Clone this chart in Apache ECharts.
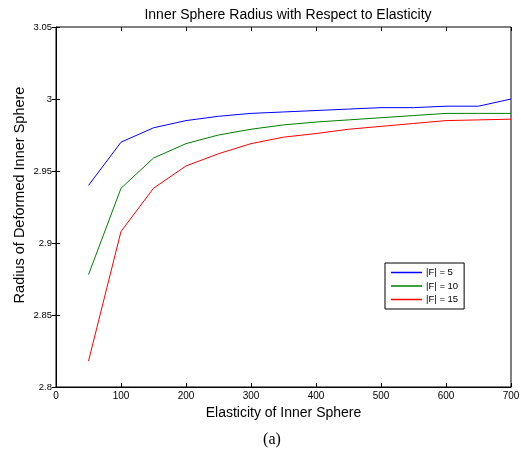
<!DOCTYPE html>
<html>
<head>
<meta charset="utf-8">
<script src="https://cdn.jsdelivr.net/npm/echarts@6/dist/echarts.min.js"></script>
<style>
  html, body { margin: 0; padding: 0; background: #fff; }
  #chart { width: 521px; height: 461px; }
</style>
</head>
<body>
<div id="chart"></div>
<script>
// Datos
const elasticity = [50, 100, 150, 200, 250, 300, 350, 400, 450, 500, 550, 600, 650, 700];
const radiusF5 = [2.940, 2.970, 2.980, 2.985, 2.988, 2.990, 2.991, 2.992, 2.993, 2.994, 2.994, 2.995, 2.995, 3.000];
const radiusF10 = [2.878, 2.938, 2.959, 2.969, 2.975, 2.979, 2.982, 2.984, 2.9855, 2.987, 2.9885, 2.990, 2.990, 2.990];
const radiusF15 = [2.818, 2.908, 2.938, 2.9535, 2.962, 2.969, 2.9735, 2.976, 2.979, 2.981, 2.983, 2.985, 2.9855, 2.986];
const seriesNames = ["|F| = 5", "|F| = 10", "|F| = 15"];
const seriesColors = ["#0000ff", "#008000", "#ff0000"];

const font = "Liberation Sans, Arial, sans-serif";

function pairs(ys) {
  return elasticity.map((x, i) => [x, ys[i]]);
}

const chart = echarts.init(document.getElementById("chart"));

// Ejes espejo (arriba y derecha) solo con marcas
const mirrorAxis = {
  axisLine: { show: false },
  axisLabel: { show: false },
  axisTick: { show: true, inside: true, length: 4, lineStyle: { color: "#000" } },
  splitLine: { show: false },
};

chart.setOption({
  animation: false,
  backgroundColor: "#fff",
  title: [
    {
      text: "Inner Sphere Radius with Respect to Elasticity",
      left: 283, top: 3, textAlign: "center",
      textStyle: { fontFamily: font, fontSize: 14, fontWeight: "normal", color: "#000" },
    },
    {
      text: "(a)",
      left: 267, top: 427, textAlign: "center",
      textStyle: { fontFamily: "Liberation Serif, Times New Roman, serif", fontSize: 16, fontWeight: "normal", color: "#000" },
    },
  ],
  // Nombre del eje Y como texto girado
  graphic: [
    {
      type: "text",
      x: 20, y: 195,
      rotation: Math.PI / 2,
      style: {
        text: "Radius of Deformed Inner Sphere",
        fontFamily: font, fontSize: 14.5, fill: "#000",
        align: "center", verticalAlign: "middle",
      },
    },
  ],
  grid: {
    left: 56, right: 10, top: 27, bottom: 74,
    outerBoundsMode: "none", containLabel: false,
    show: true, borderColor: "#000", borderWidth: 1,
  },
  legend: {
    orient: "vertical",
    left: 385, top: 263,
    data: seriesNames,
    icon: "rect",
    itemWidth: 31, itemHeight: 1.5, itemGap: 2.5,
    padding: [4, 6, 4, 6],
    borderColor: "#000", borderWidth: 1,
    backgroundColor: "#fff",
    textStyle: { fontFamily: font, fontSize: 9.5, lineHeight: 11, color: "#000", padding: [0, 0, 0, -1] },
  },
  xAxis: [
    {
      type: "value", min: 0, max: 700, interval: 100,
      name: "Elasticity of Inner Sphere", nameLocation: "middle", nameGap: 17,
      nameTextStyle: { fontFamily: font, fontSize: 14, color: "#000" },
      axisLine: { show: true, lineStyle: { color: "#000", width: 1 } },
      axisTick: { show: true, inside: true, length: 4, lineStyle: { color: "#000" } },
      axisLabel: { fontFamily: font, fontSize: 10, color: "#000", margin: 4 },
      splitLine: { show: false },
    },
    Object.assign({ type: "value", position: "top", min: 0, max: 700, interval: 100 }, mirrorAxis),
  ],
  yAxis: [
    {
      type: "value", min: 2.8, max: 3.05, interval: 0.05,
      axisLine: { show: true, lineStyle: { color: "#000", width: 1 } },
      axisTick: { show: true, inside: true, length: 4, lineStyle: { color: "#000" } },
      axisLabel: { fontFamily: font, fontSize: 9.5, color: "#000", margin: 4 },
      splitLine: { show: false },
    },
    Object.assign({ type: "value", position: "right", min: 2.8, max: 3.05, interval: 0.05 }, mirrorAxis),
  ],
  series: [radiusF5, radiusF10, radiusF15].map((ys, i) => ({
    name: seriesNames[i],
    type: "line",
    data: pairs(ys),
    showSymbol: false,
    symbol: "none",
    color: seriesColors[i],
    lineStyle: { width: 1, color: seriesColors[i] },
  })),
});
</script>
</body>
</html>
